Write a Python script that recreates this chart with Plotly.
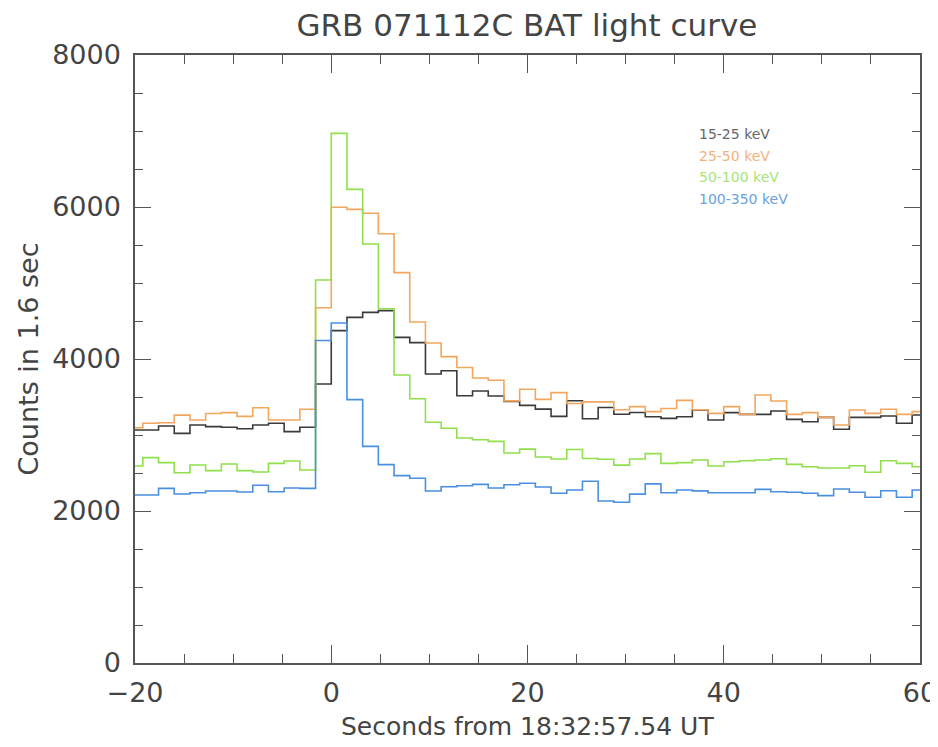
import plotly.graph_objects as go

# ---- data ----
BIN_WIDTH = 1.6          # seconds per bin
FIRST_BIN_START = -20.8  # start time of first bin (s)

band_names = ["15-25 keV", "25-50 keV", "50-100 keV", "100-350 keV"]

counts_15_25 = [3066, 3066, 3118, 3022, 3132, 3110, 3101, 3083, 3132, 3154, 3044, 3101,
                3671, 4373, 4548, 4614, 4636, 4285, 4215, 3803, 3846, 3517, 3579, 3513,
                3443, 3390, 3340, 3245, 3451, 3213, 3362, 3274, 3296, 3241, 3219, 3241,
                3330, 3197, 3294, 3272, 3272, 3316, 3206, 3175, 3232, 3075, 3232, 3232,
                3250, 3154, 3263]
counts_25_50 = [3096, 3154, 3162, 3261, 3197, 3282, 3294, 3245, 3359, 3197, 3197, 3338,
                4675, 5996, 5969, 5917, 5649, 5136, 4487, 4210, 4031, 3888, 3750, 3720,
                3449, 3601, 3469, 3557, 3415, 3436, 3436, 3332, 3373, 3307, 3348, 3456,
                3333, 3285, 3373, 3272, 3526, 3447, 3272, 3294, 3232, 3132, 3329, 3285,
                3338, 3272, 3307]
counts_50_100 = [2592, 2702, 2636, 2504, 2605, 2531, 2618, 2531, 2513, 2627, 2658, 2539,
                 5039, 6969, 6232, 5513, 4662, 3789, 3477, 3167, 3088, 2960, 2938, 2916,
                 2763, 2814, 2710, 2684, 2810, 2690, 2680, 2603, 2684, 2755, 2627, 2636,
                 2671, 2592, 2649, 2662, 2671, 2688, 2614, 2583, 2566, 2566, 2596, 2509,
                 2662, 2627, 2583]
counts_100_350 = [2211, 2211, 2298, 2224, 2241, 2263, 2263, 2250, 2338, 2254, 2303, 2298,
                  4243, 4473, 3465, 2850, 2610, 2465, 2430, 2263, 2320, 2333, 2350, 2303,
                  2346, 2366, 2315, 2233, 2276, 2391, 2132, 2116, 2222, 2357, 2241, 2276,
                  2265, 2241, 2241, 2241, 2285, 2254, 2246, 2233, 2202, 2289, 2246, 2180,
                  2267, 2180, 2276]

x_ticks = [-20, 0, 20, 40, 60]
y_ticks = [0, 2000, 4000, 6000, 8000]

# ---- styles ----
colors = ["#3a3a3a", "#f2a65e", "#8fe04a", "#4a8fe0"]
label_colors = ["#666666", "#f3b27a", "#a6e57a", "#6a9fe0"]
FONT = "DejaVu Sans"
TEXT_COLOR = "#444444"

n_bins = len(counts_15_25)
bin_starts = [round(FIRST_BIN_START + BIN_WIDTH * i, 2) for i in range(n_bins)]
x_steps = bin_starts + [round(bin_starts[-1] + BIN_WIDTH, 2)]

fig = go.Figure()
for name, vals, col in zip(band_names,
                           [counts_15_25, counts_25_50, counts_50_100, counts_100_350],
                           colors):
    fig.add_trace(go.Scatter(
        x=x_steps, y=vals + [vals[-1]], mode="lines", name=name,
        line=dict(color=col, width=1.6, shape="hv"),
        showlegend=False,
    ))

# IDL-style text legend
legend_y = [0.870, 0.834, 0.799, 0.763]
for name, col, yy in zip(band_names, label_colors, legend_y):
    fig.add_annotation(text=name, xref="paper", yref="paper", x=0.716, y=yy,
                       xanchor="left", yanchor="middle", showarrow=False,
                       font=dict(family=FONT, size=14, color=col))

# x-axis title placed as an annotation for exact vertical position
fig.add_annotation(text="Seconds from 18:32:57.54 UT", xref="paper", yref="paper",
                   x=0.5, y=0, xanchor="center", yanchor="middle", yshift=-63,
                   showarrow=False, font=dict(family=FONT, size=25, color=TEXT_COLOR))

axis_common = dict(
    automargin=False,
    showgrid=False, zeroline=False, showline=True, linecolor="#555555", linewidth=1.5,
    mirror="ticks", ticks="inside", tickcolor="#555555", tickwidth=1.3,
    tickfont=dict(family=FONT, size=27, color=TEXT_COLOR),
)

fig.update_layout(
    width=930, height=739,
    paper_bgcolor="white", plot_bgcolor="white",
    margin=dict(l=127, r=18, t=47, b=84),
    title=dict(text="GRB 071112C BAT light curve", x=0.558, xanchor="center",
               xref="container", y=0.977, yanchor="middle",
               font=dict(family=FONT, size=31, color=TEXT_COLOR)),
    xaxis=dict(range=[-20, 60], tickvals=x_ticks, ticklen=18,
               ticklabelstandoff=5,
               minor=dict(dtick=5, tick0=0, ticks="inside", ticklen=9,
                          tickcolor="#555555", tickwidth=1.3),
               **axis_common),
    yaxis=dict(range=[0, 8000], tickvals=y_ticks, ticklen=16,
               ticklabelstandoff=7,
               minor=dict(dtick=500, tick0=0, ticks="inside", ticklen=8,
                          tickcolor="#555555", tickwidth=1.3),
               title=dict(text="Counts in 1.6 sec", standoff=6,
                          font=dict(family=FONT, size=27, color=TEXT_COLOR)),
               **axis_common),
)

fig.write_html("out.html")
